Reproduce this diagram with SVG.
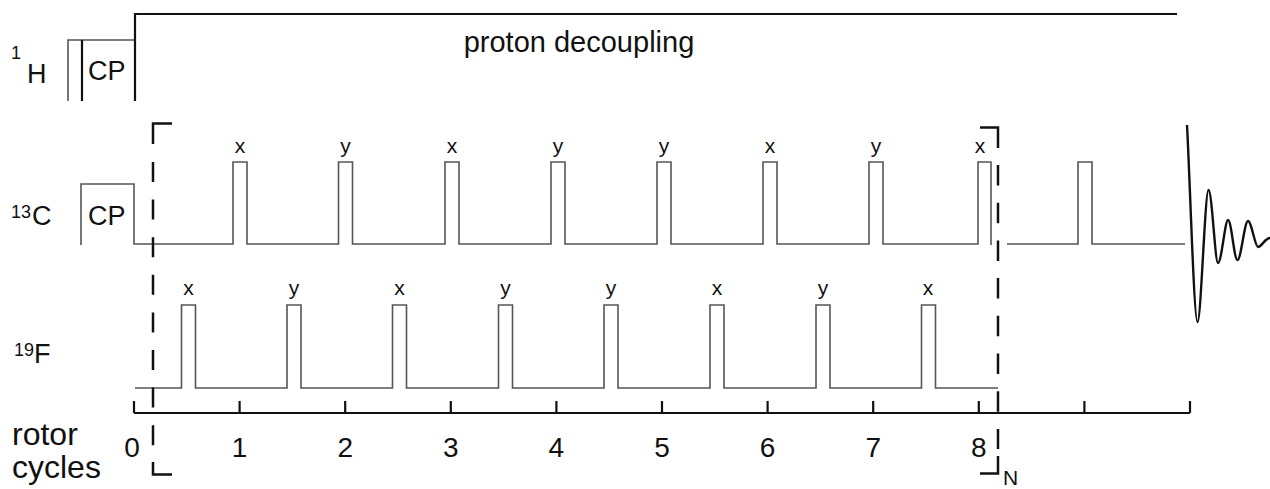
<svg xmlns="http://www.w3.org/2000/svg" width="1270" height="489" viewBox="0 0 1270 489">
<style>
text{font-family:"Liberation Sans",Arial,sans-serif;fill:#111}
.lbl{font-size:27px}
.sup{font-size:18px}
.ph{font-size:21px;text-anchor:middle}
.num{font-size:28px;text-anchor:middle}
.big{font-size:32px}
.thin{fill:none;stroke:#555;stroke-width:1.6}
.thick{fill:none;stroke:#111;stroke-width:2.2}
.dash{fill:none;stroke:#111;stroke-width:2.5}
.fid{fill:none;stroke:#111;stroke-width:2.4}
</style>
<rect width="1270" height="489" fill="#fff"/>

<g id="H1">
<text class="sup" x="11" y="59">1</text>
<text class="lbl" x="27" y="83">H</text>
<path class="thin" d="M68,101 V40 H135"/>
<path class="thick" d="M82,40 V101" stroke-width="2.6"/>
<path class="thick" d="M135,101 V14 H1177"/>
<text class="lbl" x="88" y="80" font-size="28">CP</text>
<text x="579" y="52" font-size="29" text-anchor="middle">proton decoupling</text>
</g>

<g id="C13">
<text class="sup" x="11" y="218">13</text>
<text class="lbl" x="32" y="225" font-size="28">C</text>
<path class="thin" d="M81,245 V184 H134 V244 H233 V162 H247 V244 H338.5 V162 H352.5 V244 H445 V162 H459 V244 H551 V162 H565 V244 H657 V162 H671 V244 H763 V162 H777 V244 H869 V162 H883 V244 H978 V162 H991 V245"/>
<path class="thin" d="M1007,244 H1078 V162 H1092 V244 H1185"/>
<text class="lbl" x="88" y="225" font-size="28">CP</text>
<text class="ph" x="240" y="153">x</text>
<text class="ph" x="345.5" y="153">y</text>
<text class="ph" x="452" y="153">x</text>
<text class="ph" x="558" y="153">y</text>
<text class="ph" x="664" y="153">y</text>
<text class="ph" x="770" y="153">x</text>
<text class="ph" x="876" y="153">y</text>
<text class="ph" x="980" y="153">x</text>
</g>

<g id="FID">
<path class="fid" d="M1187,125 C1190,180 1194,322 1197.5,322 C1201,322 1205,190 1208.5,190 C1212,190 1215,263 1218,263 C1221.5,263 1225,220 1228,220 C1231.5,220 1234,260 1237.5,260 C1241,260 1244.5,221 1248,221 C1251.5,221 1255,247 1258,247 C1261.5,247 1265,238 1270,238"/>
</g>

<g id="F19">
<text class="sup" x="14" y="356">19</text>
<text class="lbl" x="34" y="363">F</text>
<path class="thin" d="M135,388 H181.5 V305 H195.5 V388 H287 V305 H301 V388 H392.5 V305 H406.5 V388 H498.5 V305 H512.5 V388 H604 V305 H618 V388 H710 V305 H724 V388 H816 V305 H830 V388 H921.5 V305 H935.5 V388 H998"/>
<text class="ph" x="188.5" y="295">x</text>
<text class="ph" x="294" y="295">y</text>
<text class="ph" x="399.5" y="295">x</text>
<text class="ph" x="505.5" y="295">y</text>
<text class="ph" x="611" y="295">y</text>
<text class="ph" x="717" y="295">x</text>
<text class="ph" x="823" y="295">y</text>
<text class="ph" x="928" y="295">x</text>
</g>

<g id="axis">
<path class="thick" d="M134,413 H1190 M134,401 V413 M239.6,401 V413 M345.2,401 V413 M450.8,401 V413 M556.4,401 V413 M662,401 V413 M767.6,401 V413 M873.2,401 V413 M978.8,401 V413 M1084.4,401 V413 M1190,401 V413"/>
<text class="big" x="12" y="445">rotor</text>
<text class="big" x="12" y="478">cycles</text>
<text class="num" x="132" y="457">0</text>
<text class="num" x="239.6" y="457">1</text>
<text class="num" x="345.2" y="457">2</text>
<text class="num" x="450.8" y="457">3</text>
<text class="num" x="556.4" y="457">4</text>
<text class="num" x="662" y="457">5</text>
<text class="num" x="767.6" y="457">6</text>
<text class="num" x="873.2" y="457">7</text>
<text class="num" x="978.8" y="457">8</text>
</g>

<g id="connectors">
<path class="dash" d="M172,123.5 H153 V144"/>
<path class="dash" d="M153,162 V446" stroke-dasharray="20 17.6"/>
<path class="dash" d="M153,462 V474.5 H172"/>
<path class="dash" d="M980,127.5 H998 V148"/>
<path class="dash" d="M998,165 V449" stroke-dasharray="20.5 17.2"/>
<path class="dash" d="M998,456 V473.5 H980"/>
<text x="1003" y="485" font-size="21">N</text>
</g>
</svg>
